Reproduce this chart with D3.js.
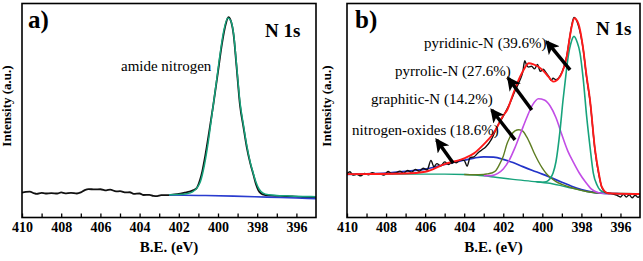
<!DOCTYPE html>
<html>
<head>
<meta charset="utf-8">
<script src="https://cdn.jsdelivr.net/npm/d3@7"></script>
<style>
  html, body { margin: 0; padding: 0; background: #fff; }
  svg text { font-family: "Liberation Serif", "Times New Roman", serif; }
</style>
</head>
<body>
<div id="chart"></div>
<script>
// binding energy ticks (eV) and labelled ticks
const tickValues = [410, 409, 408, 407, 406, 405, 404, 403, 402, 401, 400, 399, 398, 397, 396];
const tickLabels = [410, 408, 406, 404, 402, 400, 398, 396];

// ---- panel a : [B.E., intensity] ----
const spectrumA = [
  [410, 11.4], [409.8, 11.8], [409.6, 11.9], [409.4, 11.2], [409.25, 10.8], [409.0, 11.3],
  [408.8, 11.0], [408.5, 11.2], [408.2, 11.0], [408.0, 11.5], [407.8, 11.1], [407.5, 11.3],
  [407.2, 11.0], [407.0, 11.5], [406.8, 12.6], [406.6, 13.1], [406.3, 12.9], [406.0, 13.0],
  [405.7, 12.5], [405.5, 12.8], [405.2, 12.0], [405.0, 12.1], [404.7, 11.5], [404.5, 11.6],
  [404.3, 10.8], [404.0, 11.0], [403.8, 10.3], [403.5, 10.4], [403.3, 9.9], [403.1, 9.8],
  [402.9, 10.2], [402.6, 10.2], [402.3, 10.5], [402.0, 10.8], [401.7, 11.4], [401.45, 11.9],
  [401.25, 12.6], [401.1, 13.4], [400.92, 17.3], [400.8, 21.5], [400.66, 28.2], [400.45, 40],
  [400.24, 52.5], [400.0, 68], [399.8, 81], [399.6, 90.5], [399.47, 93.6], [399.35, 92],
  [399.2, 85], [399.05, 70], [398.88, 52.5], [398.7, 42], [398.54, 33], [398.35, 25],
  [398.2, 20], [398.05, 15], [397.94, 12.5], [397.8, 11], [397.6, 10.3], [397.3, 10.0],
  [397.0, 9.9], [396.6, 9.8], [396.2, 9.6], [395.8, 9.4], [395.5, 9.2], [395.2, 9.1], [395.0, 9.2]
];
const fitA = [
  [402.5, 10.4], [402.0, 10.5], [401.6, 10.9], [401.3, 11.8], [401.1, 13.3], [400.9, 16.5],
  [400.7, 24], [400.5, 35], [400.3, 48.5], [400.1, 62], [399.9, 76], [399.7, 87.5],
  [399.5, 93.2], [399.35, 92], [399.2, 85.5], [399.05, 71], [398.88, 54], [398.7, 43],
  [398.54, 34], [398.35, 25.5], [398.2, 20.5], [398.05, 16], [397.9, 13], [397.7, 11.2],
  [397.4, 10.4], [397.0, 10.1], [396.5, 9.9], [396.0, 9.7], [395.5, 9.6], [395.0, 9.5]
];
const backgroundA = [[402.5, 10.3], [401.0, 10.1], [399.2, 9.8], [397.5, 9.3], [396.0, 8.9], [395.0, 8.6]];

// ---- panel b : [B.E., intensity] ----
const spectrumB = [
  [410, 20.3], [409.85, 21.2], [409.7, 19.6], [409.5, 20.0], [409.3, 19.3], [409.1, 20.4],
  [408.9, 19.8], [408.7, 20.8], [408.5, 20.0], [408.3, 20.2], [408.1, 19.6], [407.9, 21.3],
  [407.7, 20.4], [407.5, 20.6], [407.3, 21.5], [407.1, 20.5], [406.9, 21.8], [406.7, 21.0],
  [406.5, 22.3], [406.3, 21.4], [406.1, 22.8], [405.9, 22.0], [405.7, 26.5], [405.55, 23.5],
  [405.4, 25.0], [405.2, 24.0], [405.0, 25.8], [404.8, 24.6], [404.6, 26.0], [404.4, 25.4],
  [404.2, 26.8], [404.0, 26.5], [403.85, 23.8], [403.7, 27.8], [403.5, 28.2], [403.3, 30.0],
  [403.1, 31.4], [402.9, 32.8], [402.6, 36.5], [402.3, 42.5], [402.0, 47.2], [401.7, 52.5],
  [401.4, 59], [401.15, 64.0], [401.0, 68], [400.9, 73.2], [400.8, 71], [400.7, 70.2],
  [400.55, 70.6], [400.4, 69.4], [400.25, 71.4], [400.1, 68.2], [399.95, 69.2], [399.8, 67.5],
  [399.65, 65.5], [399.55, 64.0], [399.45, 65.0], [399.3, 64.3], [399.1, 66.0], [398.9, 70],
  [398.75, 75.5], [398.6, 84], [398.5, 89.5], [398.38, 93.5], [398.2, 91], [397.9, 78],
  [397.75, 66.5], [397.56, 54.5], [397.3, 31], [397.1, 19.5], [396.96, 14], [396.8, 11.8],
  [396.6, 11.2], [396.4, 10.9], [396.2, 10.2], [396.0, 9.4], [395.85, 10.6], [395.7, 9.4],
  [395.55, 10.4], [395.4, 9.0], [395.25, 10.2], [395.1, 9.2], [395.0, 10.0]
];
const envelopeB = [
  [410, 20.1], [407, 20.4], [406, 21.2], [405, 24.8], [404, 27.5], [403.5, 29.8],
  [403.0, 34], [402.5, 39.2], [402.0, 47.5], [401.8, 50.1], [401.5, 57.5], [401.14, 65.7],
  [400.9, 69.8], [400.7, 72], [400.45, 71.5], [400.2, 70.4], [399.9, 68], [399.69, 65.7],
  [399.44, 63.4], [399.1, 65.7], [398.9, 70], [398.75, 75.1], [398.6, 84], [398.5, 89.1],
  [398.36, 93.1], [398.16, 90.7], [397.9, 78.2], [397.75, 67], [397.56, 54.8], [397.3, 31.4],
  [397.1, 20], [396.96, 14.2], [396.64, 11.1], [396.0, 10.9], [395.0, 10.8]
];
const backgroundB = [
  [410, 20.1], [405, 20.1], [404, 19.9], [403, 19.3], [402.4, 18.6], [401.5, 17.6],
  [400.3, 16.5], [399.5, 15.6], [399, 14.6], [398.5, 13.5], [398, 12.5], [397.5, 11.6],
  [397, 11.1], [396, 11.0], [395, 10.9]
];
const nitrogenOxides = [
  [410, 19.9], [409, 20.2], [408, 20.6], [407, 21.4], [406, 22.4], [405.5, 23.4],
  [405, 24.6], [404.5, 25.7], [404, 26.6], [403.5, 27.6], [403, 28.2], [402.5, 28.0],
  [402, 27.0], [401.5, 25.5], [401, 23.6], [400.5, 21.8], [400, 20.1], [399.5, 18.2],
  [399, 16.3], [398.5, 14.4], [398, 12.9], [397.5, 11.8], [397, 11.2], [396, 10.9], [395, 10.8]
];
const graphiticN = [
  [404, 19.9], [403.5, 19.8], [403, 19.9], [402.8, 20.2], [402.6, 20.6], [402.4, 21.5],
  [402.2, 24.5], [402.0, 28.5], [401.8, 34.5], [401.6, 38.3], [401.4, 40.3], [401.2, 40.9],
  [401.0, 40.2], [400.8, 37.5], [400.6, 33.8], [400.4, 29.6], [400.2, 26.0], [400.0, 22.9],
  [399.8, 20.4], [399.6, 18.6], [399.3, 16.6], [399.0, 15.3], [398.5, 13.7], [398.0, 12.5],
  [397.5, 11.6], [397.0, 11.1]
];
const pyrrolicN = [
  [403, 19.3], [402.6, 19.4], [402.3, 20.3], [402.0, 22.5], [401.7, 26.5], [401.4, 32.5],
  [401.1, 39.5], [400.8, 46.5], [400.5, 52.5], [400.2, 55.4], [399.9, 54.8], [399.6, 52.0],
  [399.3, 46.5], [399.0, 38.5], [398.7, 31.0], [398.4, 25.5], [398.1, 20.5], [397.8, 16.5],
  [397.5, 13.2], [397.2, 11.6], [396.9, 11.1], [396.5, 11.0]
];
const pyridinicN = [
  [400.3, 16.5], [400.0, 16.3], [399.8, 16.5], [399.6, 18.0], [399.45, 20.6], [399.3, 26],
  [399.1, 40], [398.94, 54.8], [398.8, 66], [398.68, 74.9], [398.52, 82], [398.38, 84.6],
  [398.22, 82], [398.07, 76.8], [397.9, 64], [397.73, 47], [397.56, 33], [397.39, 20.6],
  [397.2, 15], [397.04, 12.6], [396.8, 11.4], [396.5, 11.0]
];

// annotation texts
const labelsB = ["pyridinic-N (39.6%)", "pyrrolic-N (27.6%)", "graphitic-N (14.2%)", "nitrogen-oxides (18.6%)"];

const serif = '"Liberation Serif", "Times New Roman", serif';
const width = 643, height = 261;
const svg = d3.select('#chart').append('svg')
  .attr('width', width)
  .attr('height', height)
  .style('display', 'block');

svg.append('defs').append('marker')
  .attr('id', 'head')
  .attr('markerUnits', 'userSpaceOnUse')
  .attr('viewBox', '0 0 12 12')
  .attr('refX', 10).attr('refY', 6)
  .attr('markerWidth', 14).attr('markerHeight', 14)
  .attr('orient', 'auto')
  .append('path')
  .attr('d', 'M0,0 L12,6 L0,12 L3,6 Z')
  .attr('fill', '#000');

const y = d3.scaleLinear().domain([0, 100]).range([217, 3.5]);
const frameTop = 3.5, frameBottom = 217.5;

function panel(id, xRange, yLabelX) {
  const x = d3.scaleLinear().domain([410, 395]).range(xRange);
  const g = svg.append('g');

  g.append('clipPath').attr('id', 'clip-' + id)
    .append('rect')
    .attr('x', xRange[0]).attr('y', frameTop)
    .attr('width', xRange[1] - xRange[0]).attr('height', frameBottom - frameTop);

  const plot = g.append('g').attr('clip-path', `url(#clip-${id})`);

  // axis: inward ticks, even values labelled
  const axis = g.append('g')
    .attr('transform', `translate(0,${frameBottom})`)
    .call(d3.axisBottom(x)
      .tickValues(tickValues)
      .tickSize(-4)
      .tickPadding(5)
      .tickFormat(d => tickLabels.includes(d) ? d : ''));
  axis.attr('font-family', null);
  axis.select('.domain').remove();
  axis.selectAll('line').attr('stroke', '#000').attr('stroke-width', 1.3);
  axis.selectAll('text')
    .style('font-size', '14px')
    .style('font-weight', 'bold')
    .attr('fill', '#000');

  g.append('rect')
    .attr('x', xRange[0]).attr('y', frameTop)
    .attr('width', xRange[1] - xRange[0]).attr('height', frameBottom - frameTop)
    .attr('fill', 'none')
    .attr('stroke', '#000')
    .attr('stroke-width', 1.6);

  g.append('text')
    .attr('x', (xRange[0] + xRange[1]) / 2)
    .attr('y', 252)
    .attr('text-anchor', 'middle')
    .style('font-size', '15px')
    .style('font-weight', 'bold')
    .text('B.E. (eV)');

  g.append('text')
    .attr('transform', `translate(${yLabelX},106) rotate(-90)`)
    .attr('text-anchor', 'middle')
    .style('font-size', '13px')
    .style('font-weight', 'bold')
    .text('Intensity (a.u.)');

  const line = d3.line()
    .x(d => x(d[0]))
    .y(d => y(d[1]))
    .curve(d3.curveMonotoneX);

  const draw = (data, color, w) => plot.append('path')
    .datum(data)
    .attr('d', line)
    .attr('fill', 'none')
    .attr('stroke', color)
    .attr('stroke-width', w)
    .attr('stroke-linejoin', 'round');

  return { x, g, plot, draw };
}

// ---------- panel a ----------
const pa = panel('a', [22, 316], 10.5);
pa.draw(spectrumA, '#111', 1.8);
pa.draw(backgroundA, '#2a3ccf', 1.6);
pa.draw(fitA, '#17a37c', 1.5);

pa.g.append('text').attr('x', pa.x(409.69)).attr('y', y(88.5))
  .style('font-size', '25px').style('font-weight', 'bold').text('a)');
pa.g.append('text').attr('x', pa.x(397.6)).attr('y', y(84.3))
  .style('font-size', '19px').style('font-weight', 'bold').text('N 1s');
pa.g.append('text').attr('x', pa.x(404.95)).attr('y', y(68.4))
  .style('font-size', '15px').text('amide nitrogen');

// ---------- panel b ----------
const pb = panel('b', [347, 640], 331);
pb.draw(backgroundB, '#17a37c', 1.4);
pb.draw(nitrogenOxides, '#2233c8', 1.7);
pb.draw(graphiticN, '#5e7d22', 1.4);
pb.draw(pyrrolicN, '#c24de6', 1.6);
pb.draw(pyridinicN, '#17a37c', 1.6);
pb.draw(spectrumB, '#111', 1.4);
pb.draw(envelopeB, '#ff1a1a', 1.9);

pb.g.append('text').attr('x', pb.x(409.59)).attr('y', y(88.5))
  .style('font-size', '25px').style('font-weight', 'bold').text('b)');
pb.g.append('text').attr('x', pb.x(397.25)).attr('y', y(85.2))
  .style('font-size', '19px').style('font-weight', 'bold').text('N 1s');

// label anchors [B.E., intensity] and arrows [tail, head]
const labelPos = [[406.06, 79.2], [407.54, 66.0], [408.77, 52.9], [409.74, 38.4]];
const arrows = [
  [[398.58, 68.9], [399.77, 82.1]],
  [[400.54, 50.1], [401.74, 65.0]],
  [[401.4, 36.1], [402.59, 50.1]],
  [[404.56, 25.2], [405.41, 36.1]]
];

pb.g.selectAll('.lbl')
  .data(labelsB)
  .enter().append('text')
  .attr('class', 'lbl')
  .attr('x', (d, i) => pb.x(labelPos[i][0]))
  .attr('y', (d, i) => y(labelPos[i][1]))
  .style('font-size', '15px')
  .text(d => d);

pb.g.selectAll('.arrow')
  .data(arrows)
  .enter().append('line')
  .attr('class', 'arrow')
  .attr('x1', d => pb.x(d[0][0]))
  .attr('y1', d => y(d[0][1]))
  .attr('x2', d => pb.x(d[1][0]))
  .attr('y2', d => y(d[1][1]))
  .attr('stroke', '#000')
  .attr('stroke-width', 3.5)
  .attr('marker-end', 'url(#head)');

// every text in the serif face of the original figure
svg.selectAll('text').style('font-family', serif);
</script>
</body>
</html>
